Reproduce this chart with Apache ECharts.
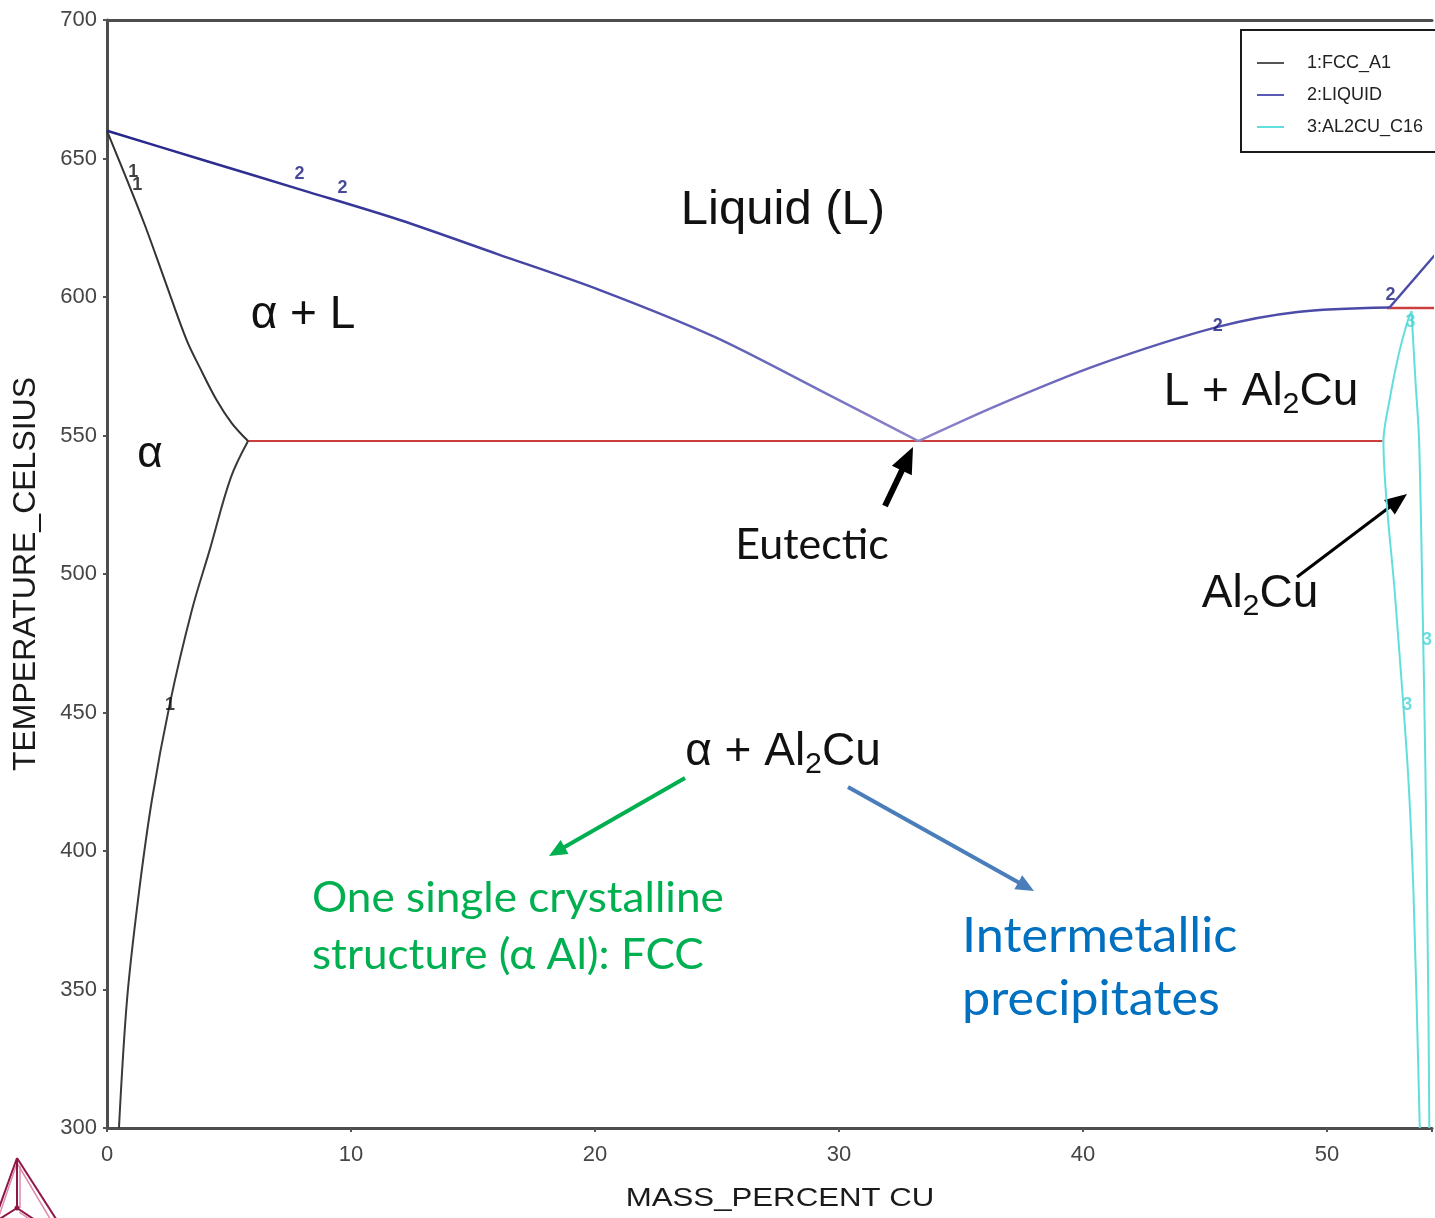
<!DOCTYPE html>
<html>
<head>
<meta charset="utf-8">
<script src="https://cdn.jsdelivr.net/npm/echarts@6/dist/echarts.min.js"></script>
<style>
  html, body { margin: 0; padding: 0; background: #ffffff; }
  #chart { width: 1435px; height: 1218px; }
</style>
</head>
<body>
<div id="chart"></div>
<script>
// Al–Cu phase diagram, aluminium-rich side (mass % Cu vs temperature in °C)

// Axis tick labels
const xTickValues = [0, 10, 20, 30, 40, 50];
const xTickLabels = ['0', '10', '20', '30', '40', '50'];
const yTickValues = [300, 350, 400, 450, 500, 550, 600, 650, 700];
const yTickLabels = ['300', '350', '400', '450', '500', '550', '600', '650', '700'];

// Phase 1 (FCC_A1): solidus from the Al melting point down to the eutectic
const solidusX = [0, 0.74, 1.55, 2.37, 3.26, 3.81, 4.49, 5.11, 5.78];
const solidusT = [660, 644, 626, 606, 584.5, 574.4, 562.8, 554.5, 548];
// ... and the solvus below the eutectic
const solvusX = [5.78, 5.07, 4.21, 3.48, 2.58, 1.84, 1.27, 0.82, 0.49];
const solvusT = [548, 534.7, 508.7, 487, 453.4, 418.4, 382.3, 346.2, 300];

// Phase 2 (LIQUID): liquidus on the Al side, on the Al2Cu side, and above the 596 °C reaction
const liqLeftX = [0, 4, 8, 12, 16, 20.2, 24.9, 29.2, 33.25];
const liqLeftT = [660, 649.3, 638.6, 627.8, 615.5, 602.5, 585.6, 566.4, 548];
const liqRightX = [33.25, 36.52, 40.61, 45.52, 48.79, 52.56];
const liqRightT = [548, 561, 575.5, 589.2, 594.6, 596.2];
const liqUpperX = [52.56, 54.4];
const liqUpperT = [596.2, 615];

// Phase 3 (AL2CU_C16): Cu-poor and Cu-rich boundaries of the θ field
const thetaLeftX = [53.80, 53.55, 53.31, 52.80, 52.31, 52.56, 52.93, 53.29, 53.46];
const thetaLeftT = [300, 382.3, 429.2, 490.6, 548, 562.8, 579.1, 591.0, 594.9];
const thetaRightX = [53.46, 53.62, 53.77, 53.91, 54.03, 54.15, 54.19];
const thetaRightT = [594.9, 570.0, 548.4, 490.6, 429.2, 346.2, 300];

// Invariant lines: eutectic at 548 °C and the upper reaction at 596 °C
const eutecticX = [5.78, 52.27];
const eutecticT = [548, 548];
const upperX = [52.45, 56];
const upperT = [596, 596];

// Curve number tags
const tagX = [1.08, 1.24, 2.58, 7.89, 9.65, 45.52, 52.6, 53.42, 53.29, 54.1];
const tagT = [645.2, 640.4, 452.7, 644.4, 639.4, 589.5, 600.7, 591, 452.7, 476.2];
const tagText = ['1', '1', '1', '2', '2', '2', '2', '3', '3', '3'];

const SANS = '"Liberation Sans", Arial, sans-serif';
const HUM = 'Lato, "Open Sans", sans-serif';
const COL_FCC = '#333333';
const COL_THETA = '#62dede';
const COL_INV = '#cc3d3d';
const tagColor = { '1': '#111111', '2': '#1c1c80', '3': '#4cd3d3' };

const zip = (xs, ys) => xs.map((x, i) => [x, ys[i]]);
const vGrad = (top, mid, bottom) => ({
  type: 'linear', x: 0, y: 0, x2: 0, y2: 1,
  colorStops: [{ offset: 0, color: top }, { offset: 0.5, color: mid }, { offset: 1, color: bottom }]
});

function curve(name, xs, ys, color, width, smooth, z) {
  return {
    name: name, type: 'line', data: zip(xs, ys), symbol: 'none', showSymbol: false,
    smooth: smooth, lineStyle: { color: color, width: width }, z: z || 3, silent: true
  };
}

function arrow(x1, y1, x2, y2, color, w, hl, hw) {
  const dx = x2 - x1, dy = y2 - y1, L = Math.hypot(dx, dy);
  const ux = dx / L, uy = dy / L, px = -uy, py = ux;
  const bx = x2 - ux * hl, by = y2 - uy * hl;
  return {
    type: 'group',
    children: [
      { type: 'line', shape: { x1: x1, y1: y1, x2: bx + ux * 2, y2: by + uy * 2 },
        style: { stroke: color, lineWidth: w } },
      { type: 'polygon',
        shape: { points: [[x2, y2], [bx + px * hw / 2, by + py * hw / 2], [bx - px * hw / 2, by - py * hw / 2]] },
        style: { fill: color } }
    ]
  };
}

function label(x, y, text, size, color, family, align, extra, scaleX) {
  const st = Object.assign({
    text: text, fontSize: size, fontFamily: family, fill: color,
    align: align || 'center', textAlign: align || 'center',
    verticalAlign: 'middle', textVerticalAlign: 'middle'
  }, extra || {});
  return { type: 'text', x: x, y: y, scaleX: scaleX || 1, style: st };
}

function subLabel(x, y, parts, size, color) {
  // parts: [before, subscript, after]
  return label(x, y, '{n|' + parts[0] + '}{s|' + parts[1] + '}{n|' + parts[2] + '}', size, color, SANS, 'center', {
    rich: {
      n: { fontSize: size, fontFamily: SANS, fill: color, color: color, lineHeight: size * 1.2 },
      s: { fontSize: size * 0.66, fontFamily: SANS, fill: color, color: color,
           lineHeight: size * 0.66, verticalAlign: 'bottom' }
    }
  });
}

function logoLines() {
  const dark = '#8e1747', pink = '#e08aab';
  const seg = (a, b, c, w) => ({ type: 'line', shape: { x1: a[0], y1: a[1], x2: b[0], y2: b[1] },
                                 style: { stroke: c, lineWidth: w } });
  return {
    type: 'group', silent: true,
    children: [
      seg([17, 1158], [-6, 1222], dark, 2),
      seg([17, 1163], [-3, 1222], pink, 1.5),
      seg([17, 1158], [58, 1222], dark, 2),
      seg([17, 1163], [52, 1222], pink, 1.5),
      seg([17, 1158], [17, 1208], dark, 2),
      seg([20, 1166], [20, 1208], pink, 1.5),
      seg([17, 1208], [-2, 1220], dark, 2),
      seg([17, 1208], [38, 1222], dark, 2),
      seg([19, 1212], [34, 1222], pink, 1.5),
      { type: 'circle', shape: { cx: 17, cy: 1208, r: 2.5 }, style: { fill: dark } }
    ]
  };
}

const chart = echarts.init(document.getElementById('chart'), null, { renderer: 'canvas' });

const axisLineStyle = { color: '#4d4d4d', width: 3 };

const option = {
  backgroundColor: '#ffffff',
  animation: false,
  grid: { left: 107, top: 20, right: 0, bottom: 90, containLabel: false },
  xAxis: [
    {
      type: 'value', min: 0, max: 54.3, interval: 10,
      axisLine: { show: true, onZero: false, lineStyle: axisLineStyle },
      axisTick: { show: true, length: 4, lineStyle: { color: '#555', width: 2 } },
      axisLabel: {
        margin: 16, fontSize: 22, color: '#454545', fontFamily: SANS,
        formatter: v => { const i = xTickValues.indexOf(v); return i < 0 ? '' : xTickLabels[i]; }
      },
      splitLine: { show: false }
    },
    {
      type: 'value', position: 'top', min: 0, max: 54.3,
      axisLine: { show: true, onZero: false, lineStyle: axisLineStyle },
      axisTick: { show: false }, axisLabel: { show: false }, splitLine: { show: false }
    }
  ],
  yAxis: {
    type: 'value', min: 300, max: 700, interval: 50,
    axisLine: { show: true, onZero: false, lineStyle: axisLineStyle },
    axisTick: { show: true, length: 4, lineStyle: { color: '#555', width: 2 } },
    axisLabel: {
      margin: 10, fontSize: 22, color: '#454545', fontFamily: SANS,
      formatter: v => { const i = yTickValues.indexOf(v); return i < 0 ? '' : yTickLabels[i]; }
    },
    splitLine: { show: false }
  },
  legend: {
    left: 1241, top: 30, orient: 'vertical', selectedMode: false,
    icon: 'rect', itemWidth: 27, itemHeight: 2, itemGap: 14,
    padding: [24, 40, 16, 16],
    borderColor: '#1a1a1a', borderWidth: 2,
    textStyle: { fontSize: 18, lineHeight: 18, color: '#222222', fontFamily: SANS, padding: [0, 0, 0, 18] },
    data: [
      { name: '1:FCC_A1', icon: 'rect', itemStyle: { color: '#555555' } },
      { name: '2:LIQUID', icon: 'rect', itemStyle: { color: '#5a5ab4' } },
      { name: '3:AL2CU_C16', icon: 'rect', itemStyle: { color: COL_THETA } }
    ]
  },
  series: [
    curve('1:FCC_A1', solidusX, solidusT, COL_FCC, 2, 0.35),
    curve('1:FCC_A1', solvusX, solvusT, '#3a3a3a', 2, 0.35),
    curve('2:LIQUID', liqLeftX, liqLeftT, vGrad('#24248a', '#4a4aa8', '#8d86cc'), 2.5, 0.3),
    curve('2:LIQUID', liqRightX, liqRightT, vGrad('#4848a6', '#6a64bc', '#9088cc'), 2.5, 0.3),
    curve('2:LIQUID', liqUpperX, liqUpperT, '#4a4aa8', 2.5, false),
    curve('3:AL2CU_C16', thetaLeftX, thetaLeftT, COL_THETA, 2, 0.3),
    curve('3:AL2CU_C16', thetaRightX, thetaRightT, COL_THETA, 2, 0.3),
    curve('eutectic', eutecticX, eutecticT, COL_INV, 2, false, 2),
    curve('upper', upperX, upperT, COL_INV, 2.5, false, 2),
    {
      name: 'tags', type: 'scatter', symbolSize: 0, silent: true, z: 4,
      data: tagX.map((x, i) => ({
        value: [x, tagT[i], tagText[i]],
        label: { color: tagColor[tagText[i]] }
      })),
      label: {
        show: true, position: 'inside', fontSize: 18, fontWeight: 'bold', fontFamily: SANS,
        formatter: p => p.value[2]
      }
    }
  ],
  graphic: [
    // axis titles
    { type: 'text', x: 780, y: 1199, scaleX: 1.2,
      style: { text: 'MASS_PERCENT CU', fontSize: 26, fontFamily: SANS, fill: '#1a1a1a',
               align: 'center', textAlign: 'center', verticalAlign: 'middle', textVerticalAlign: 'middle' } },
    { type: 'text', x: 26, y: 574, rotation: Math.PI / 2,
      style: { text: 'TEMPERATURE_CELSIUS', fontSize: 32, fontFamily: SANS, fill: '#1a1a1a',
               align: 'center', textAlign: 'center', verticalAlign: 'middle', textVerticalAlign: 'middle' } },

    // phase-field names
    label(783, 210, 'Liquid (L)', 49, '#111', SANS),
    label(303, 315, 'α + L', 46, '#111', SANS),
    label(150, 455, 'α', 44, '#111', SANS),
    subLabel(1261, 392, ['L + Al', '2', 'Cu'], 46, '#111'),
    subLabel(1260, 594, ['Al', '2', 'Cu'], 46, '#111'),
    subLabel(783, 752, ['α + Al', '2', 'Cu'], 46, '#111'),
    label(812, 545, 'Eutectic', 43, '#111', HUM),

    // explanations
    label(312, 898, 'One single crystalline', 42, '#00b050', HUM, 'left', null, 1.05),
    label(312, 955, 'structure (α Al): FCC', 42, '#00b050', HUM, 'left', null, 1.05),
    label(962, 937, 'Intermetallic', 48, '#0070c0', HUM, 'left', null, 1.05),
    label(962, 1000, 'precipitates', 48, '#0070c0', HUM, 'left', null, 1.05),

    // arrows
    arrow(885, 506, 913, 447, '#000000', 6, 26, 22),
    arrow(1297, 577, 1407, 494, '#000000', 3, 22, 18),
    arrow(685, 778, 549, 856, '#00b050', 4, 18, 16),
    arrow(848, 787, 1034, 891, '#4a7ebb', 4, 18, 16),

    logoLines()
  ]
};

chart.setOption(option);
</script>
</body>
</html>
